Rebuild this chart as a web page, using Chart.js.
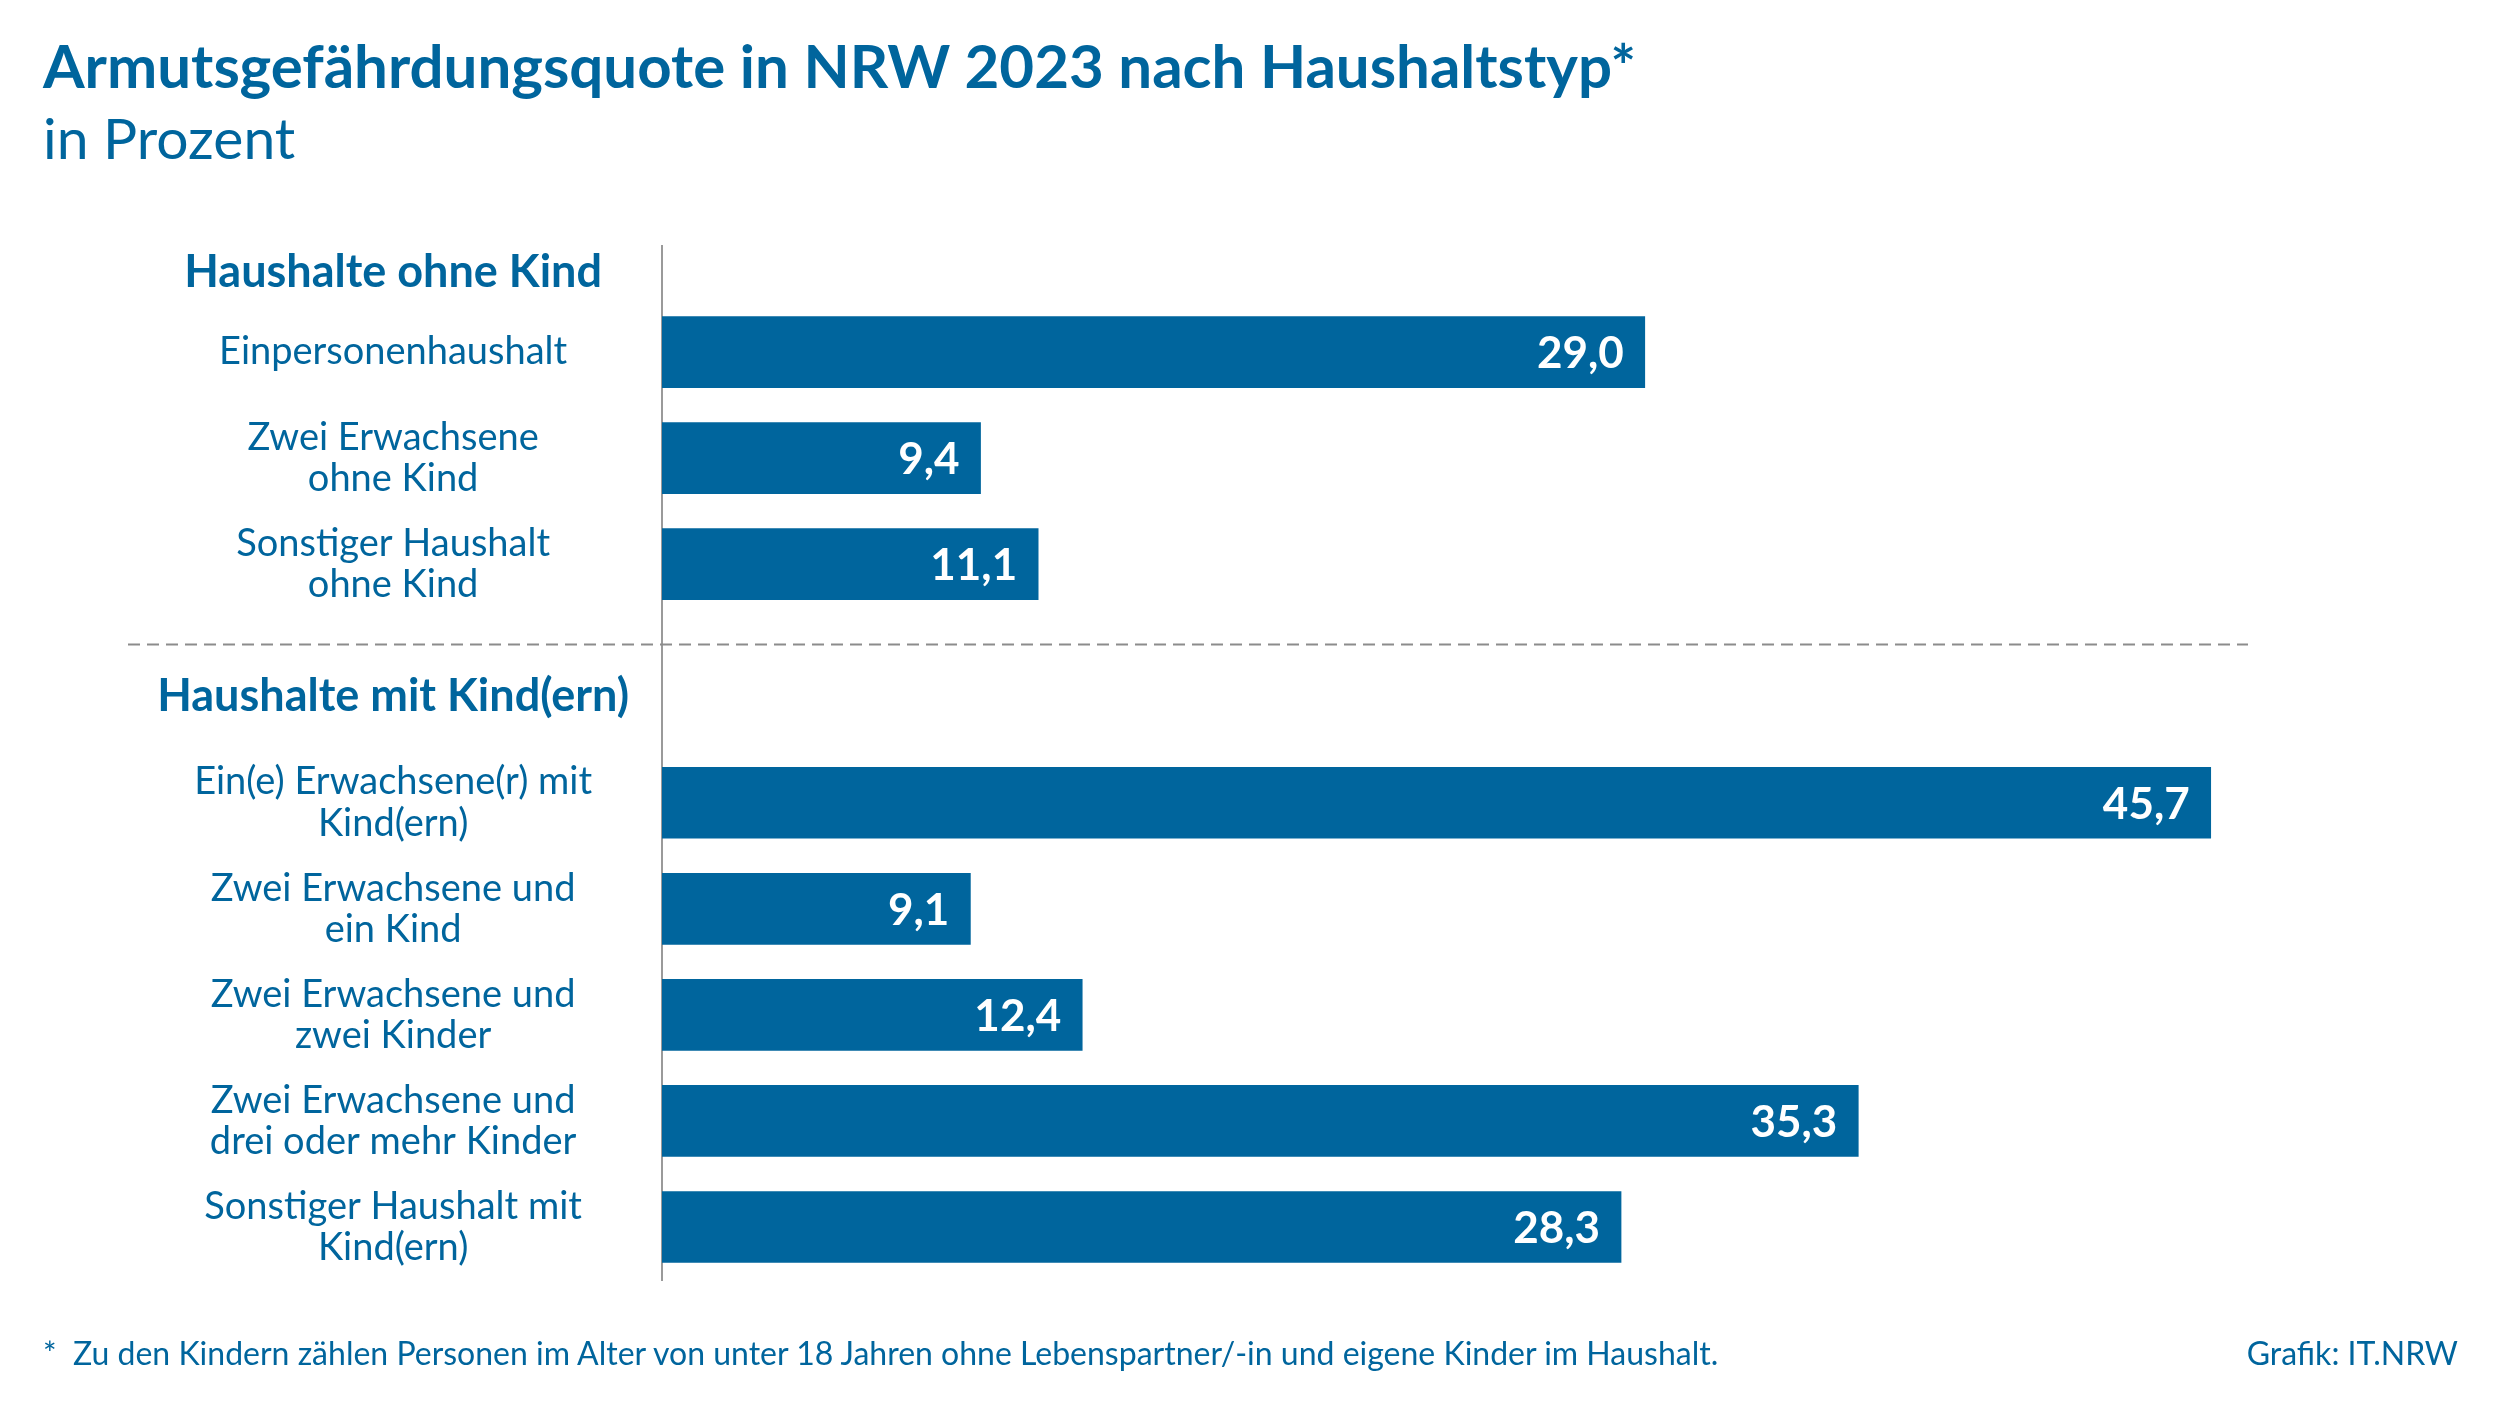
<!DOCTYPE html>
<html lang="de">
<head>
<meta charset="utf-8">
<script src="https://cdn.jsdelivr.net/npm/chart.js@4.4.1/dist/chart.umd.min.js"></script>
<style>
  html, body { margin: 0; padding: 0; background: #fff; }
  body { width: 2500px; height: 1406px; position: relative; overflow: hidden; font-family: Lato, sans-serif; color: #00659d; }
  #chart { position: absolute; left: 0; top: 0; }
  .txt { position: absolute; line-height: 1; white-space: nowrap; margin: 0; }
  .title { left: 43px; top: 35px; font-size: 60px; font-weight: 700; }
  .subtitle { left: 43px; top: 109px; font-size: 57px; font-weight: 400; }
  .note { left: 43px; top: 1337px; font-size: 32px; }
  .source { right: 42px; top: 1337px; font-size: 32px; }
</style>
</head>
<body>
<h1 class="txt title">Armutsgefährdungsquote in NRW 2023 nach Haushaltstyp*</h1>
<div class="txt subtitle">in Prozent</div>
<canvas id="chart" width="2500" height="1406"></canvas>
<div class="txt note">*&nbsp; Zu den Kindern zählen Personen im Alter von unter 18 Jahren ohne Lebenspartner/-in und eigene Kinder im Haushalt.</div>
<div class="txt source">Grafik: IT.NRW</div>
<script>
const groupTitles = ['Haushalte ohne Kind', 'Haushalte mit Kind(ern)']
const categories = [
  ['Einpersonenhaushalt'],
  ['Zwei Erwachsene', 'ohne Kind'],
  ['Sonstiger Haushalt', 'ohne Kind'],
  ['Ein(e) Erwachsene(r) mit', 'Kind(ern)'],
  ['Zwei Erwachsene und', 'ein Kind'],
  ['Zwei Erwachsene und', 'zwei Kinder'],
  ['Zwei Erwachsene und', 'drei oder mehr Kinder'],
  ['Sonstiger Haushalt mit', 'Kind(ern)']
]
const values = [29.0, 9.4, 11.1, 45.7, 9.1, 12.4, 35.3, 28.3]

// row plan of the category axis: h = group heading, b = bar, - = divider, . = empty
const rowPlan = '.h..b...b...b..-.h...b...b...b...b...b..'

const BLUE = '#00659d'
const FONT = 'Lato, sans-serif'

const rowLabels = []
const rowValues = []
let g = 0
let b = 0
for (const r of rowPlan) {
  if (r === 'h') {
    rowLabels.push(groupTitles[g++])
    rowValues.push(null)
  } else if (r === 'b') {
    rowLabels.push(categories[b])
    rowValues.push(values[b++])
  } else {
    rowLabels.push('')
    rowValues.push(null)
  }
}

const extras = {
  id: 'extras',
  beforeDatasetsDraw(chart) {
    const { ctx, chartArea, scales: { y } } = chart
    const idx = rowPlan.indexOf('-')
    const py = Math.round(y.getPixelForValue(idx)) + 0.5
    ctx.save()
    ctx.strokeStyle = '#8c8c8c'
    ctx.lineWidth = 2
    ctx.setLineDash([12, 7])
    ctx.beginPath()
    ctx.moveTo(y.left, py)
    ctx.lineTo(chartArea.right, py)
    ctx.stroke()
    ctx.restore()
  },
  afterDatasetsDraw(chart) {
    const { ctx } = chart
    const meta = chart.getDatasetMeta(0)
    ctx.save()
    ctx.fillStyle = '#ffffff'
    ctx.font = 'bold 44px ' + FONT
    ctx.textAlign = 'right'
    ctx.textBaseline = 'middle'
    meta.data.forEach((bar, i) => {
      const v = rowValues[i]
      if (v == null) return
      const txt = v.toLocaleString('de-DE', { minimumFractionDigits: 1, maximumFractionDigits: 1 })
      ctx.fillText(txt, bar.x - 21, bar.y + 2)
    })
    ctx.restore()
  }
}

new Chart(document.getElementById('chart'), {
  type: 'bar',
  plugins: [extras],
  data: {
    labels: rowLabels,
    datasets: [
      {
        data: rowValues,
        backgroundColor: BLUE,
        borderWidth: 0,
        barThickness: 71
      }
    ]
  },
  options: {
    indexAxis: 'y',
    responsive: false,
    animation: false,
    events: [],
    layout: {
      padding: { left: 128, right: 252, top: 246, bottom: 126 }
    },
    plugins: {
      legend: { display: false },
      tooltip: { enabled: false }
    },
    scales: {
      x: {
        display: false,
        min: 0,
        max: 46.8
      },
      y: {
        offset: false,
        afterFit(scale) {
          scale.width = 534
        },
        grid: { display: false, drawTicks: false },
        border: { display: true, color: '#9a9a9a', width: 2 },
        ticks: {
          autoSkip: false,
          crossAlign: 'center',
          padding: 33,
          color: BLUE,
          font: (ctx) => rowPlan[ctx.index] === 'h'
            ? { family: FONT, size: 45, weight: 'bold', lineHeight: 1.1 }
            : { family: FONT, size: 38, lineHeight: 1.08 }
        }
      }
    }
  }
})
</script>
</body>
</html>
